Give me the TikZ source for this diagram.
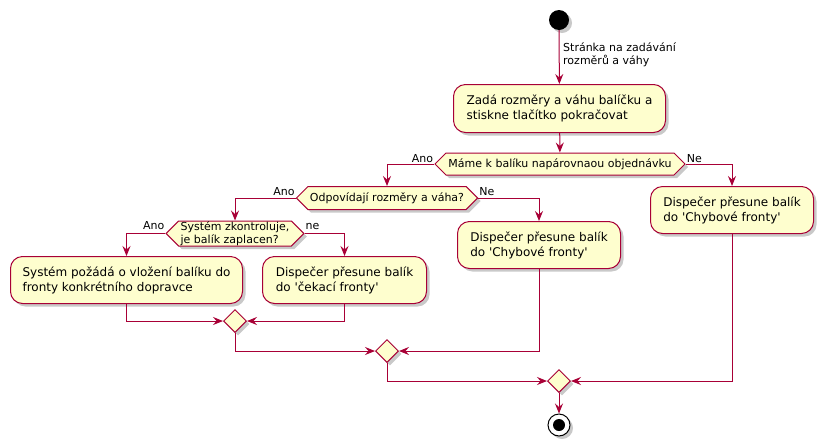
\documentclass[tikz,border=0pt]{standalone}
\usepackage{fontspec}
\setmainfont{DejaVu Sans}[Ligatures=TeXOff]
\usetikzlibrary{arrows.meta,shapes.geometric,shapes.symbols,shadows}
\definecolor{pborder}{HTML}{A80036}
\definecolor{pfill}{HTML}{FEFECE}
\begin{document}
\begin{tikzpicture}[x=1pt,y=-1pt,
 shd/.style={drop shadow={shadow xshift=3pt,shadow yshift=-3pt,opacity=0.3,fill=black!70}},
 act/.style={draw=pborder,fill=pfill,line width=1pt,rounded corners=12pt,align=left,
   font=\fontsize{12}{15}\selectfont,anchor=north west,inner sep=0pt,shd},
 hexa/.style={draw=pborder,fill=pfill,line width=1pt,shape=signal,signal to=west and east,
   signal pointer angle=90,font=\fontsize{11}{13}\selectfont,inner xsep=2pt,inner ysep=0pt,shd,align=left},
 mrg/.style={draw=pborder,fill=pfill,line width=1pt,diamond,minimum size=23pt,inner sep=0pt,shd},
 arr/.style={draw=pborder,line width=1pt,-{Stealth[length=10pt,width=8pt,inset=3.5pt]}},
 lbl/.style={font=\fontsize{11}{13}\selectfont,inner sep=0pt,align=left}]
\useasboundingbox (0,0) rectangle (824,445);

% start / end
\node (start) [circle,fill=black,minimum size=20pt,inner sep=0pt,shd] at (559,20) {};
\node (end) [circle,draw=black,fill=white,line width=1pt,minimum size=22pt,inner sep=0pt,shd] at (559,425) {};
\fill[black] (end.center) circle (6pt);

% activities
\node (a1) [act,minimum width=212pt,minimum height=48pt] at (453,84)
  {Zadá rozměry a váhu balíčku a\\stiskne tlačítko pokračovat};
\node (a4) [act,minimum width=163pt,minimum height=47pt] at (650,186)
  {Dispečer přesune balík\\do 'Chybové fronty'};
\node (a3) [act,minimum width=163pt,minimum height=47pt] at (457,221)
  {Dispečer přesune balík\\do 'Chybové fronty'};
\node (aL) [act,minimum width=232pt,minimum height=47pt] at (10,256)
  {Systém požádá o vložení balíku do\\fronty konkrétního dopravce};
\node (aW) [act,minimum width=164pt,minimum height=47pt] at (262,256)
  {Dispečer přesune balík\\do 'čekací fronty'};

% decisions
\node (d1) [hexa,minimum width=250pt,minimum height=22pt] at (560,164)
  {Máme k balíku napárovnaou objednávku};
\node (d2) [hexa,minimum width=180pt,minimum height=23pt] at (387,198)
  {Odpovídají rozměry a váha?};
\node (d3) [hexa,minimum width=134pt,minimum height=25pt] at (235,233.5)
  {Systém zkontroluje,\\je balík zaplacen?};

% merges
\node (m1) [mrg] at (235,321) {};
\node (m2) [mrg] at (387,351) {};
\node (m3) [mrg] at (559,381) {};

% labels
\node [lbl,anchor=north west] at (563,42.5) {Stránka na zadávání\\rozměrů a váhy};
\node [lbl,anchor=base east,xshift=-1pt,yshift=2pt] at (d1.west) {Ano};
\node [lbl,anchor=base west,xshift=1pt,yshift=2pt] at (d1.east) {Ne};
\node [lbl,anchor=base east,xshift=-1pt,yshift=3pt] at (d2.west) {Ano};
\node [lbl,anchor=base west,xshift=1pt,yshift=3pt] at (d2.east) {Ne};
\node [lbl,anchor=base east,xshift=-1pt,yshift=4pt] at (d3.west) {Ano};
\node [lbl,anchor=base west,xshift=1pt,yshift=4pt] at (d3.east) {ne};

% connectors
\draw[arr] (start) -- (a1);
\draw[arr] (a1) -- (d1);
\draw[arr] (d1.west) -| (d2.north);
\draw[arr] (d1.east) -| (a4.north);
\draw[arr] (d2.west) -| (d3.north);
\draw[arr] (d2.east) -| (a3.north);
\draw[arr] (d3.west) -| (aL.north);
\draw[arr] (d3.east) -| (aW.north);
\draw[arr] (aL.south) |- (m1.west);
\draw[arr] (aW.south) |- (m1.east);
\draw[arr] (m1.south) |- (m2.west);
\draw[arr] (a3.south) |- (m2.east);
\draw[arr] (m2.south) |- (m3.west);
\draw[arr] (a4.south) |- (m3.east);
\draw[arr] (m3) -- (end);
\end{tikzpicture}
\end{document}
